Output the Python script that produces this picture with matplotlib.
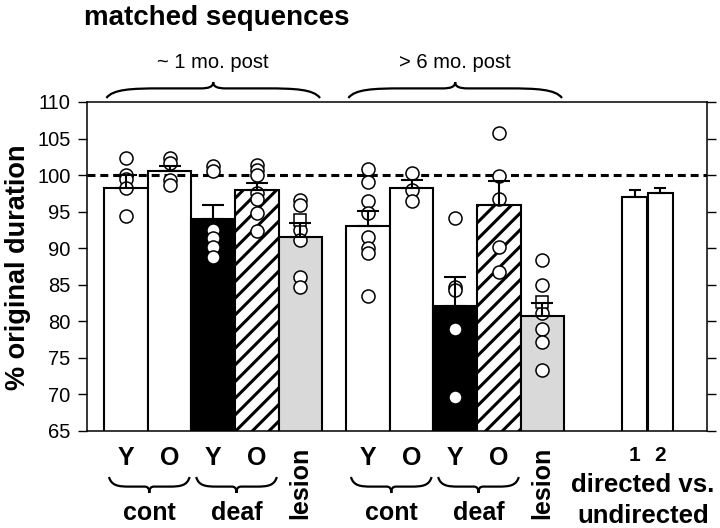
import numpy as np
import matplotlib
matplotlib.use('Agg')
import matplotlib.pyplot as plt
from matplotlib.path import Path
from matplotlib.patches import PathPatch

plt.rcParams['font.family'] = ['Liberation Sans', 'DejaVu Sans']
plt.rcParams['hatch.linewidth'] = 2.2

# data
bar_labels = ['Y', 'O', 'Y', 'O', 'lesion', 'Y', 'O', 'Y', 'O', 'lesion', '1', '2']
means_1mo = [98.3, 100.5, 94.0, 97.9, 91.6]
errs_1mo = [1.7, 0.7, 1.9, 1.0, 1.9]
means_6mo = [93.0, 98.3, 82.1, 95.9, 80.7]
errs_6mo = [2.1, 1.0, 4.0, 3.3, 1.8]
means_dir = [97.0, 97.6]
errs_dir = [1.0, 0.6]

pts_1mo = [[102.3, 100.0, 99.4, 98.2, 94.4],
           [102.3, 101.6, 99.3, 98.6],
           [101.2, 100.5, 92.5, 91.4, 90.2, 88.8],
           [101.4, 100.7, 100.0, 97.5, 96.8, 94.8, 92.3],
           [96.6, 95.9, 92.5, 91.1, 86.1, 84.7]]
pts_6mo = [[100.9, 99.1, 96.4, 94.8, 91.6, 90.0, 89.3, 83.5],
           [100.3, 98.0, 96.5],
           [94.1, 84.7, 84.3, 79.0, 69.7],
           [105.8, 99.9, 96.8, 90.2, 86.8],
           [88.4, 85.0, 81.2, 79.0, 77.2, 73.3]]
lesion_sq = [93.9, 82.7]

group_top = ['~ 1 mo. post', '> 6 mo. post']
pair_labels = ['cont', 'deaf']

# layout
pos1 = np.arange(5)
pos2 = np.arange(5) + 5.55
pos3 = np.array([11.67, 12.25])
fills = ['white', 'white', 'black', 'white', '#d9d9d9']
hatches = [None, None, None, '//', None]

W, H = 720, 528
fig = plt.figure(figsize=(7.2, 5.28), dpi=100)
ax = fig.add_axes([86.5 / W, 1 - 431 / H, (707 - 86.5) / W, (431 - 102) / H])
ax.set_xlim(-0.906, 13.326)
ax.set_ylim(65, 110)

for pos, means, errs, pts in [(pos1, means_1mo, errs_1mo, pts_1mo),
                              (pos2, means_6mo, errs_6mo, pts_6mo)]:
    for i in range(5):
        ax.bar(pos[i], means[i], width=1.0, color=fills[i], hatch=hatches[i],
               edgecolor='black', linewidth=1.5, zorder=2)
        ax.plot([pos[i]] * len(pts[i]), pts[i], 'o', ms=9.4, mfc='white',
                mec='black', mew=1.1, zorder=4)
    ax.errorbar(pos, means, yerr=[np.zeros(5), errs], fmt='none', ecolor='black',
                elinewidth=1.5, capsize=8, capthick=1.5, zorder=5)
ax.plot([pos1[4], pos2[4]], lesion_sq, 's', ms=9, mfc='white', mec='black',
        mew=1.1, zorder=4)

ax.bar(pos3, means_dir, width=0.57, color='white', edgecolor='black',
       linewidth=1.5, zorder=2)
ax.errorbar(pos3, means_dir, yerr=[np.zeros(2), errs_dir], fmt='none', ecolor='black',
            elinewidth=1.5, capsize=4, capthick=1.5, zorder=5)

ax.axhline(100, color='black', lw=2.2, linestyle=(0, (2.6, 1.6)), zorder=3)

ax.set_yticks(np.arange(65, 111, 5))
ax.tick_params(axis='y', direction='out', length=6.5, width=1, labelsize=14.5,
               right=True, left=True, pad=5)
allpos = np.concatenate([pos1, pos2, pos3])
ax.set_xticks(allpos)
ax.set_xticklabels(bar_labels, fontsize=18, fontweight='bold')
ax.tick_params(axis='x', length=0, pad=11)
for t in ax.get_xticklabels():
    if t.get_text() == 'lesion':
        t.set_rotation(90)
    if t.get_text() in ('1', '2'):
        t.set_fontsize(15)
for s in ax.spines.values():
    s.set_linewidth(1.1)

# overlay in pixel coordinates for the annotations
ov = fig.add_axes([0, 0, 1, 1], zorder=10)
ov.set_xlim(0, W)
ov.set_ylim(H, 0)
ov.axis('off')
ov.patch.set_alpha(0)


def xp(d):
    return ax.transData.transform((d, 0))[0]


def brace(x0, x1, yend, ytip):
    w = x1 - x0
    xm = (x0 + x1) / 2
    h = ytip - yend
    yp = yend + 0.6 * h
    verts = [(x0, yend), (x0 + 0.03 * w, yend + 0.55 * h), (x0 + 0.12 * w, yp), (x0 + 0.25 * w, yp),
             (xm - 0.06 * w, yp),
             (xm - 0.02 * w, yp), (xm, yp + 0.1 * h), (xm, ytip),
             (xm, yp + 0.1 * h), (xm + 0.02 * w, yp), (xm + 0.06 * w, yp),
             (x1 - 0.25 * w, yp),
             (x1 - 0.12 * w, yp), (x1 - 0.03 * w, yend + 0.55 * h), (x1, yend)]
    codes = [Path.MOVETO, Path.CURVE4, Path.CURVE4, Path.CURVE4, Path.LINETO,
             Path.CURVE4, Path.CURVE4, Path.CURVE4, Path.CURVE4, Path.CURVE4, Path.CURVE4,
             Path.LINETO, Path.CURVE4, Path.CURVE4, Path.CURVE4]
    ov.add_patch(PathPatch(Path(verts, codes), fill=False, lw=1.6, edgecolor='black'))


ov.text(217, 25, 'matched sequences', fontsize=20, fontweight='bold',
        ha='center', va='baseline')
ov.text(18, 267, '% original duration', fontsize=19.5, fontweight='bold',
        rotation=90, ha='center', va='center')

for pos, lab in zip([pos1, pos2], group_top):
    x0 = xp(pos[0] - 0.45)
    x1 = xp(pos[-1] + 0.45)
    brace(x0, x1, 98, 82)
    ov.text((x0 + x1) / 2, 68, lab, fontsize=14.5, ha='center', va='baseline')

for pos in [pos1, pos2]:
    for k, lab in enumerate(pair_labels):
        a, b = pos[2 * k], pos[2 * k + 1]
        x0 = xp(a) - 17
        x1 = xp(b) + 20
        brace(x0, x1, 477, 493)
        ov.text((x0 + x1) / 2, 513, lab, fontsize=18, fontweight='bold',
                ha='center', va='center')

ov.text(643, 485, 'directed vs.', fontsize=18.5, fontweight='bold', ha='center', va='center')
ov.text(643, 516, 'undirected', fontsize=18.5, fontweight='bold', ha='center', va='center')

fig.savefig('out.png', dpi=100)
